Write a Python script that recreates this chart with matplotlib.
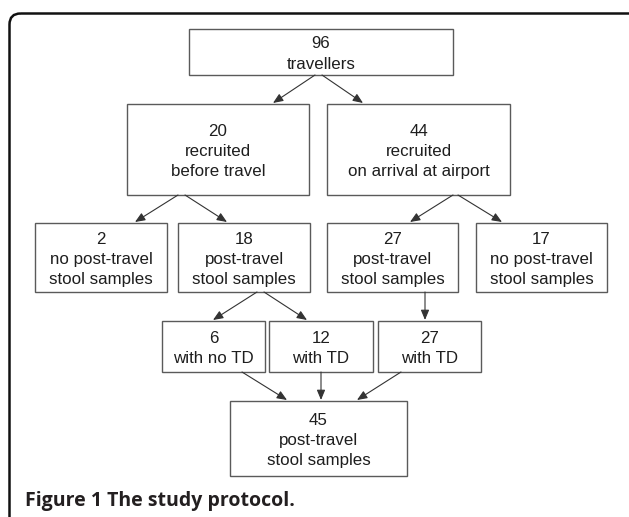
import matplotlib
matplotlib.use("Agg")
import matplotlib.pyplot as plt
from matplotlib.patches import Rectangle, FancyBboxPatch
from matplotlib import font_manager

# ---- data (box texts) ----
counts = ["96", "20", "44", "2", "18", "27", "17", "6", "12", "27", "45"]
descriptions = [
    "travellers",
    "recruited\nbefore travel",
    "recruited\non arrival at airport",
    "no post-travel\nstool samples",
    "post-travel\nstool samples",
    "post-travel\nstool samples",
    "no post-travel\nstool samples",
    "with no TD",
    "with TD",
    "with TD",
    "post-travel\nstool samples",
]
caption = "Figure 1 The study protocol."

# ---- layout (pixel boxes: x0, y0, x1, y1) ----
boxes = [
    (189, 29, 453, 75),
    (127, 104, 309, 195),
    (327, 104, 510, 195),
    (35, 223, 167, 292),
    (178, 223, 310, 292),
    (327, 223, 458, 292),
    (476, 223, 607, 292),
    (162, 321, 265, 372),
    (269, 321, 373, 372),
    (378, 321, 481, 372),
    (230, 401, 407, 476),
]
# arrows: (x_start, y_start, x_end, y_end)
arrows = [
    (315, 75, 273, 103), (322, 75, 363, 103),
    (178, 195, 135, 222), (185, 195, 227, 222),
    (453, 195, 410, 222), (458, 195, 502, 222),
    (257, 292, 213, 320), (264, 292, 307, 320),
    (425, 292, 425, 320),
    (242, 372, 287, 400), (321, 372, 321, 400), (401, 372, 357, 400),
]

names = {f.name for f in font_manager.fontManager.ttflist}
narrow = "Liberation Sans Narrow" in names
box_font = "Liberation Sans Narrow" if narrow else "Liberation Sans"
box_size = 13.6 if narrow else 12.2

W, H = 629, 517
fig = plt.figure(figsize=(W / 100, H / 100), dpi=100)
ax = fig.add_axes([0, 0, 1, 1])
ax.set_xlim(0, W)
ax.set_ylim(H, 0)
ax.axis("off")

# outer rounded frame
frame = FancyBboxPatch((9.5, 13.5), 640, 560,
                       boxstyle="round,pad=0,rounding_size=11",
                       fill=False, edgecolor="#111111", linewidth=1.8)
ax.add_patch(frame)

for i, ((x0, y0, x1, y1), c, d) in enumerate(zip(boxes, counts, descriptions)):
    ax.add_patch(Rectangle((x0, y0), x1 - x0, y1 - y0, fill=False,
                           edgecolor="#5a5a5a", linewidth=1.0))
    ls = 1.5 if i == 0 else 1.38
    if narrow:
        ls = ls * 12.2 / box_size
    ax.text((x0 + x1) / 2, (y0 + y1) / 2 + 2, c + "\n" + d,
            ha="center", va="center", fontsize=box_size,
            family=box_font, color="#1e1e1e", linespacing=ls)

for xs, ys, xe, ye in arrows:
    ax.annotate("", xy=(xe, ye), xytext=(xs, ys),
                arrowprops=dict(arrowstyle="-|>,head_length=0.6,head_width=0.25",
                                color="#333333", lw=0.8, mutation_scale=10,
                                shrinkA=0, shrinkB=0))

ax.text(25, 501, caption, ha="left", va="center", fontsize=14,
        family="Open Sans", fontweight="bold", color="#231f20")

fig.savefig("out.png", dpi=100)
